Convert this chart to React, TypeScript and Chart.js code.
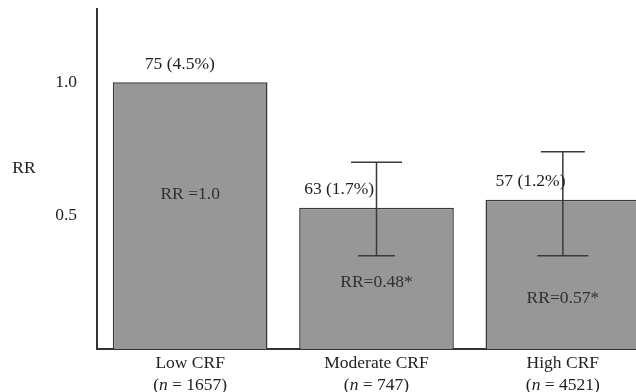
import React, { useEffect, useRef } from 'react';
import { Chart, registerables } from 'chart.js';

Chart.register(...registerables);

// ---- data ----
const categories = ['Low CRF', 'Moderate CRF', 'High CRF'];
const sampleSizes = ['1657', '747', '4521'];
const rrValues = [1.0, 0.53, 0.56];
const ciLower: (number | null)[] = [null, 0.35, 0.35];
const ciUpper: (number | null)[] = [null, 0.7, 0.74];
const eventLabels = ['75 (4.5%)', '63 (1.7%)', '57 (1.2%)'];
const rrLabels = ['RR =1.0', 'RR=0.48*', 'RR=0.57*'];
const yTickValues = [0.5, 1.0];
const yTitle = 'RR';

// ---- style ----
const FONT = "'Liberation Serif', 'Times New Roman', serif";
const FONT_SIZE = 17.5;
const TEXT = '#222222';
const LINE = '#333333';
const rrLabelLevel = [0.58, 0.25, 0.19];
const eventLabelDx = [32, 5, 10];
const capTop = [0, 51, 44];
const capBottom = [0, 37, 51];

export default function App() {
  const ref = useRef<HTMLCanvasElement>(null);

  useEffect(() => {
    if (!ref.current) return;

    const overlay = {
      id: 'overlay',
      afterDraw(chart: any) {
        const ctx = chart.ctx as CanvasRenderingContext2D;
        const meta = chart.getDatasetMeta(0);
        const ys = chart.scales.y;
        const xs = chart.scales.x;
        ctx.save();

        // error bars
        ctx.strokeStyle = '#3a3a3a';
        ctx.lineWidth = 1.5;
        meta.data.forEach((bar: any, i: number) => {
          const lo = ciLower[i];
          const hi = ciUpper[i];
          if (lo == null || hi == null) return;
          const cx = bar.x;
          const yl = ys.getPixelForValue(lo);
          const yh = ys.getPixelForValue(hi);
          ctx.beginPath();
          ctx.moveTo(cx, yl);
          ctx.lineTo(cx, yh);
          ctx.moveTo(cx - capTop[i] / 2, yh);
          ctx.lineTo(cx + capTop[i] / 2, yh);
          ctx.moveTo(cx - capBottom[i] / 2, yl);
          ctx.lineTo(cx + capBottom[i] / 2, yl);
          ctx.stroke();
        });

        ctx.fillStyle = TEXT;
        ctx.font = `${FONT_SIZE}px ${FONT}`;
        ctx.textBaseline = 'middle';

        // event labels above bars
        ctx.textAlign = 'left';
        meta.data.forEach((bar: any, i: number) => {
          const left = bar.x - bar.width / 2;
          ctx.fillText(eventLabels[i], left + eventLabelDx[i], bar.y - 18);
        });

        // RR labels inside bars
        ctx.textAlign = 'center';
        ctx.fillStyle = '#303030';
        meta.data.forEach((bar: any, i: number) => {
          ctx.fillText(rrLabels[i], bar.x, ys.getPixelForValue(rrLabelLevel[i]));
        });

        // y title (horizontal)
        ctx.fillStyle = TEXT;
        ctx.fillText(yTitle, 24, 168);

        // x category labels
        const base = xs.top;
        categories.forEach((cat, i) => {
          const cx = xs.getPixelForTick(i);
          ctx.textAlign = 'center';
          ctx.font = `${FONT_SIZE}px ${FONT}`;
          ctx.fillText(cat, cx, base + 14);
          // second line with italic n
          const p1 = '(';
          const p2 = 'n';
          const p3 = ` = ${sampleSizes[i]})`;
          ctx.font = `${FONT_SIZE}px ${FONT}`;
          const w1 = ctx.measureText(p1).width;
          const w3 = ctx.measureText(p3).width;
          ctx.font = `italic ${FONT_SIZE}px ${FONT}`;
          const w2 = ctx.measureText(p2).width;
          let x0 = cx - (w1 + w2 + w3) / 2;
          const ly = base + 36;
          ctx.textAlign = 'left';
          ctx.font = `${FONT_SIZE}px ${FONT}`;
          ctx.fillText(p1, x0, ly);
          x0 += w1;
          ctx.font = `italic ${FONT_SIZE}px ${FONT}`;
          ctx.fillText(p2, x0, ly);
          x0 += w2;
          ctx.font = `${FONT_SIZE}px ${FONT}`;
          ctx.fillText(p3, x0, ly);
        });

        ctx.restore();
      },
    };

    const chart = new Chart(ref.current, {
      type: 'bar',
      data: {
        labels: categories,
        datasets: [
          {
            data: rrValues,
            backgroundColor: '#979797',
            borderColor: '#383838',
            borderWidth: 1.5,
            categoryPercentage: 1,
            barPercentage: 0.83,
          },
        ],
      },
      options: {
        responsive: false,
        animation: false,
        events: [],
        layout: { padding: { top: 9, left: 0, right: 0, bottom: 0 } },
        plugins: {
          legend: { display: false },
          tooltip: { enabled: false },
          title: { display: false },
        },
        scales: {
          x: {
            z: 1,
            grid: { display: false, drawTicks: false },
            border: { display: true, color: LINE, width: 2 },
            ticks: { display: false },
            afterFit: (scale: any) => {
              scale.height = 43;
            },
          },
          y: {
            z: 1,
            min: 0,
            max: 1.275,
            grid: { display: false, drawTicks: false },
            border: { display: true, color: LINE, width: 2 },
            afterBuildTicks: (scale: any) => {
              scale.ticks = yTickValues.map((v) => ({ value: v }));
            },
            ticks: {
              padding: 20,
              color: TEXT,
              font: { family: FONT, size: FONT_SIZE },
              callback: (v: any) => Number(v).toFixed(1),
            },
            afterFit: (scale: any) => {
              scale.width = 97;
              scale.paddingTop = 0;
              scale.paddingBottom = 0;
            },
          },
        },
      },
      plugins: [overlay],
    });

    return () => chart.destroy();
  }, []);

  return (
    <div style={{ position: 'fixed', left: 0, top: 0, width: 656, height: 392, background: '#fff' }}>
      <canvas ref={ref} width={656} height={392} style={{ display: 'block' }} />
    </div>
  );
}
